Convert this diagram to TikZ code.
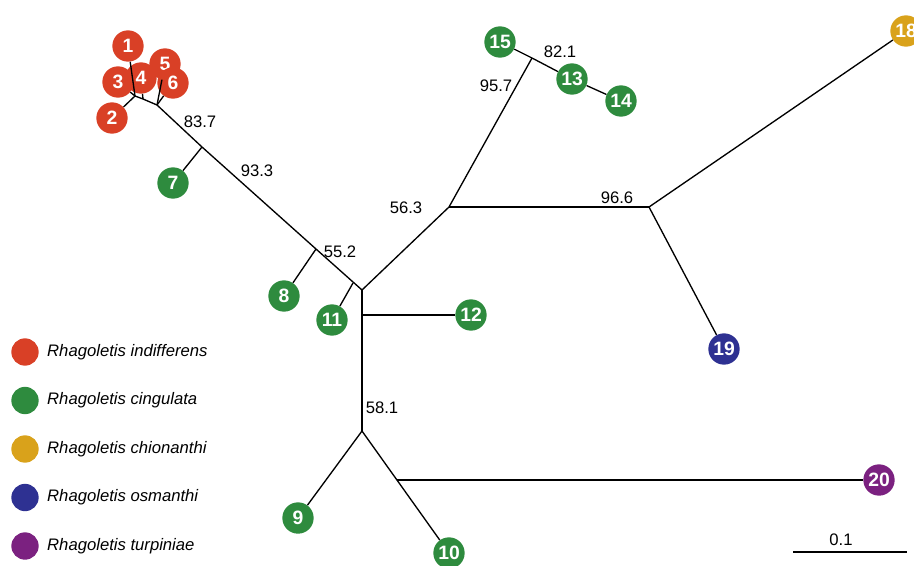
\documentclass[tikz,border=0pt]{standalone}
\usepackage{fontspec}
\setmainfont{Liberation Sans}
\usetikzlibrary{positioning}
\definecolor{indiff}{RGB}{217,64,38}
\definecolor{cingul}{RGB}{46,139,62}
\definecolor{chion}{RGB}{217,162,27}
\definecolor{osman}{RGB}{46,49,146}
\definecolor{turpin}{RGB}{123,33,128}

\begin{document}
\begin{tikzpicture}[x=0.75pt,y=-0.75pt]
    \tikzset{leaf/.style={circle,fill=#1,text=white,inner sep=0pt,minimum size=23.5pt,
        font=\fontsize{14.5}{15}\selectfont\bfseries}}
    \tikzset{legdot/.style={circle,fill=#1,inner sep=0pt,minimum size=20.5pt}}
    \tikzset{branch/.style={line width=1pt}}
    \tikzset{support/.style={font=\fontsize{12.5}{14}\selectfont,inner sep=1pt}}
    \useasboundingbox (0,0) rectangle (914,565);

    % internal nodes
    \coordinate (j1) at (135,96);
    \coordinate (j2) at (143,99);
    \coordinate (j3) at (157,105);
    \coordinate (j7) at (202,147);
    \coordinate (j8) at (316,249);
    \coordinate (j11) at (353,283);
    \coordinate (c) at (362,290);
    \coordinate (j12) at (362,315);
    \coordinate (j58) at (362,431);
    \coordinate (j20) at (397,480);
    \coordinate (j56) at (449,207);
    \coordinate (j95) at (532,58);
    \coordinate (j96) at (649,207);

    % leaves
    \node[leaf=indiff] (n1) at (128,46) {1};
    \node[leaf=indiff] (n2) at (112,118) {2};
    \node[leaf=indiff] (n3) at (118,82) {3};
    \node[leaf=indiff] (n5) at (165,64) {5};
    \node[leaf=indiff] (n4) at (141,78) {4};
    \node[leaf=indiff] (n6) at (173,83) {6};
    \node[leaf=cingul] (n7) at (173,183) {7};
    \node[leaf=cingul] (n8) at (284,296) {8};
    \node[leaf=cingul] (n9) at (298,518) {9};
    \node[leaf=cingul] (n10) at (449,553) {10};
    \node[leaf=cingul] (n11) at (332,320) {11};
    \node[leaf=cingul] (n12) at (471,315) {12};
    \node[leaf=cingul] (n13) at (572,79) {13};
    \node[leaf=cingul] (n14) at (621,101) {14};
    \node[leaf=cingul] (n15) at (500,42) {15};
    \node[leaf=chion] (n18) at (906,31) {18};
    \node[leaf=osman] (n19) at (724,349) {19};
    \node[leaf=turpin] (n20) at (879,480) {20};

    % branches
    \draw[branch] (n1) -- (j1);
    \draw[branch] (n2) -- (j1);
    \draw[branch] (n3) -- (j1);
    \draw[branch] (j1) -- (j2) -- (j3);
    \draw[branch] (n4) -- (j2);
    \draw[branch] (n5) -- (j3);
    \draw[branch] (n6) -- (j3);
    \draw[branch] (j3) -- (j7) -- (j8) -- (c);
    \draw[branch] (j7) -- (n7);
    \draw[branch] (j8) -- (n8);
    \draw[branch] (j11) -- (n11);
    \draw[branch] (c) -- (j58);
    \draw[branch] (j12) -- (n12);
    \draw[branch] (j58) -- (n9);
    \draw[branch] (j58) -- (n10);
    \draw[branch] (j20) -- (n20);
    \draw[branch] (c) -- (j56) -- (j95);
    \draw[branch] (n15) -- (j95) -- (n13) -- (n14);
    \draw[branch] (j56) -- (j96);
    \draw[branch] (j96) -- (n18);
    \draw[branch] (j96) -- (n19);

    % bootstrap values
    \node[support] (s837) at (200,122) {83.7};
    \node[support] (s933) at (257,171) {93.3};
    \node[support] (s552) at (340,252) {55.2};
    \node[support] (s563) at (406,208) {56.3};
    \node[support] (s957) at (496,86) {95.7};
    \node[support] (s821) at (560,52) {82.1};
    \node[support] (s966) at (617,198) {96.6};
    \node[support] (s581) at (382,408) {58.1};

    % legend
    \foreach \col/\sp [count=\i] in {indiff/indifferens,cingul/cingulata,chion/chionanthi,
        osman/osmanthi,turpin/turpiniae}{
        \node[legdot=\col] (leg\i) at (25,{303.5+48.5*\i}) {};
        \node[right=6pt of leg\i,inner sep=0pt,font=\fontsize{12.5}{14}\selectfont\itshape]
            (lab\i) {Rhagoletis \sp};
    }

    % scale bar
    \coordinate (sbl) at (793,552);
    \coordinate (sbr) at (907,552);
    \draw[branch] (sbl) -- (sbr);
    \node[support] (sbt) at (841,540) {0.1};
\end{tikzpicture}
\end{document}
